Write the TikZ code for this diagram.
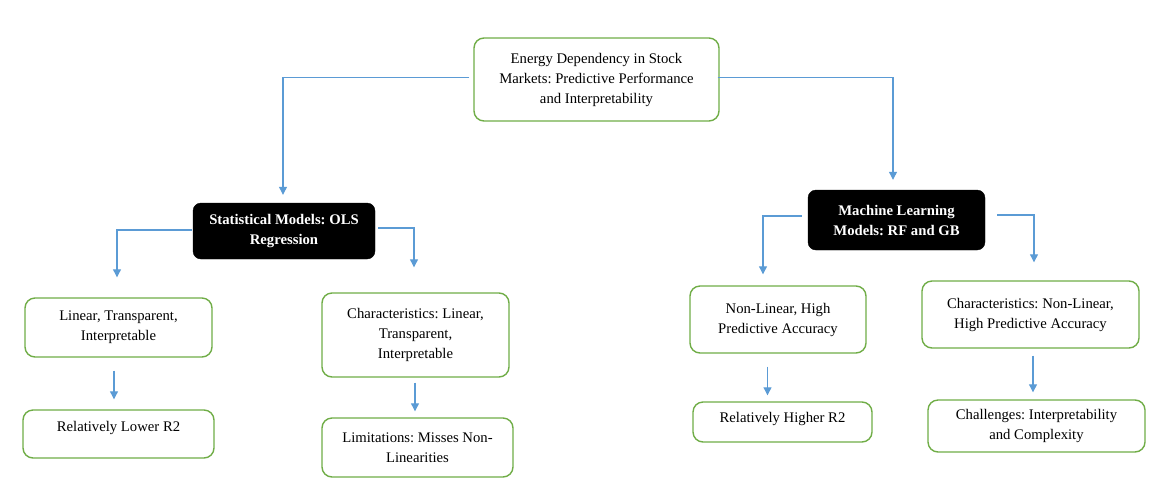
\documentclass[tikz,border=0pt]{standalone}
\usepackage{fontspec}
\setmainfont{Liberation Serif}
\usetikzlibrary{arrows.meta}
\frenchspacing

\definecolor{boxgreen}{RGB}{112,173,71}
\definecolor{arrowblue}{RGB}{91,155,213}

\tikzset{
  greenbox/.style={draw=boxgreen, line width=1.4pt, rounded corners=10pt, fill=white, align=center, inner sep=0pt, font=\fontsize{14.7}{20}\selectfont},
  blackbox/.style={draw=black, fill=black, text=white, rounded corners=8pt, align=center, inner sep=0pt, font=\bfseries\fontsize{14.7}{20}\selectfont},
  arrowline/.style={draw=arrowblue, line width=1.1pt, -{Triangle[width=8pt,length=8pt]}}
}

\begin{document}
\begin{tikzpicture}[x=1pt, y=-1pt]
    \useasboundingbox (0, 0) rectangle (1161, 483);

    % top level
    \node[greenbox, minimum width=245pt, minimum height=83pt] (root) at (596.5, 79.5) {Energy Dependency in Stock\\Markets: Predictive Performance\\and Interpretability};

    % model families
    \node[blackbox, minimum width=182pt, minimum height=56pt] (stat) at (284, 231) {Statistical Models: OLS\\Regression};
    \node[blackbox, minimum width=177pt, minimum height=60pt] (ml) at (896.5, 220) {Machine Learning\\Models: RF and GB};

    % statistical branch
    \node[greenbox, minimum width=187pt, minimum height=59pt] (lin) at (118.5, 327.5) {Linear, Transparent,\\Interpretable};
    \node[greenbox, minimum width=191pt, minimum height=48pt, text depth=16pt] (low) at (118.5, 434) {Relatively Lower R2};
    \node[greenbox, minimum width=187pt, minimum height=84pt] (charlin) at (415.5, 335) {Characteristics: Linear,\\Transparent,\\Interpretable};
    \node[greenbox, minimum width=191pt, minimum height=59pt] (lim) at (417.5, 447.5) {Limitations: Misses Non-\\Linearities};

    % machine learning branch
    \node[greenbox, minimum width=176pt, minimum height=67pt] (nonlin) at (778, 319.5) {Non-Linear, High\\Predictive Accuracy};
    \node[greenbox, minimum width=179pt, minimum height=40pt, text depth=10pt] (high) at (782.5, 422) {Relatively Higher R2};
    \node[greenbox, minimum width=217pt, minimum height=67pt] (charnon) at (1030.5, 314.5) {Characteristics: Non-Linear,\\High Predictive Accuracy};
    \node[greenbox, minimum width=217pt, minimum height=52pt] (chal) at (1036.5, 426) {Challenges: Interpretability\\and Complexity};

    % connectors
    \draw[arrowline] ([xshift=-4pt, yshift=2pt]root.west) -| ([xshift=-1pt, yshift=8pt]stat.north);
    \draw[arrowline] ([xshift=-2pt, yshift=2pt]root.east) -| ([xshift=-3.5pt, yshift=10pt]ml.north);

    \draw[arrowline] ([xshift=-1pt, yshift=1pt]stat.west) -| ([xshift=-1.5pt, yshift=20pt]lin.north);
    \draw[arrowline] ([xshift=3pt, yshift=3pt]stat.east) -| ([xshift=-1.5pt, yshift=25pt]charlin.north);
    \draw[arrowline] ([xshift=-6pt, yshift=4pt]ml.west) -| ([xshift=-15pt, yshift=11pt]nonlin.north);
    \draw[arrowline] ([xshift=12pt, yshift=5pt]ml.east) -| ([xshift=3.5pt, yshift=18pt]charnon.north);

    \draw[arrowline] ([xshift=-4.5pt, yshift=-13pt]lin.south) -- ([xshift=-4.5pt, yshift=10pt]low.north);
    \draw[arrowline] ([xshift=-0.5pt, yshift=-5pt]charlin.south) -- ([xshift=-2.5pt, yshift=6pt]lim.north);
    \draw[arrowline] ([xshift=-10.5pt, yshift=-13pt]nonlin.south) -- ([xshift=-15pt, yshift=6pt]high.north);
    \draw[arrowline] ([xshift=2.5pt, yshift=-7pt]charnon.south) -- ([xshift=-3.5pt, yshift=7pt]chal.north);
\end{tikzpicture}
\end{document}
